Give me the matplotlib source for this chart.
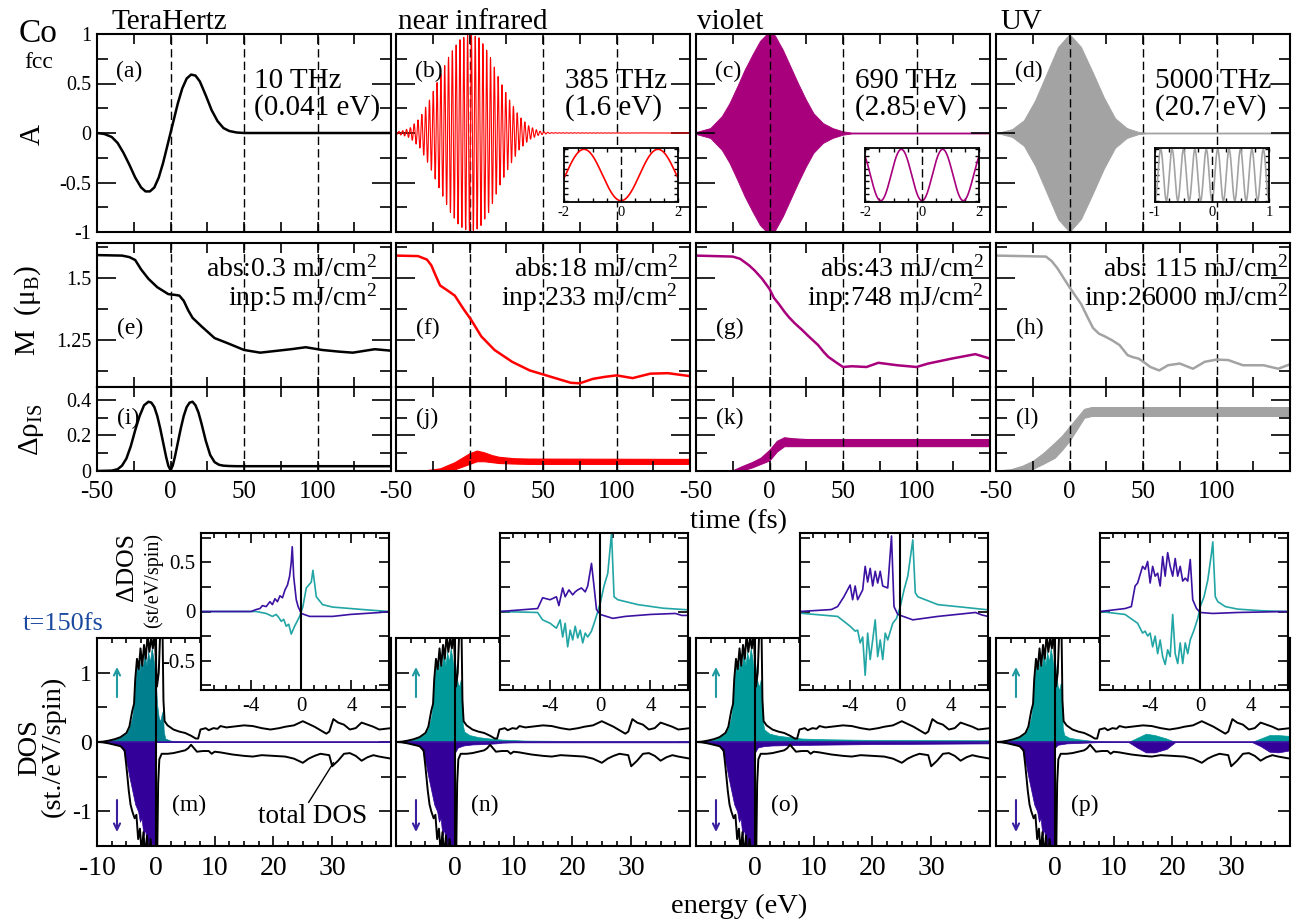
"""Co fcc: laser pulses, demagnetisation, spin-flip and DOS at t=150 fs."""
import matplotlib

matplotlib.use("Agg")
import matplotlib.pyplot as plt
import numpy as np
from matplotlib.ticker import FixedLocator, MultipleLocator

W, H = 1296, 923

# ---- column annotations ----
BANDS = ["TeraHertz", "near infrared", "violet", "UV"]
FREQ_LABELS = ["10 THz", "385 THz", "690 THz", "5000 THz"]
ENERGY_LABELS = ["(0.041 eV)", "(1.6 eV)", "(2.85 eV)", "(20.7 eV)"]
CARRIER_PER_FS = [0.010, 0.385, 0.690, 5.0]
ABS_LABELS = ["abs:0.3 mJ/cm$^2$", "abs:18 mJ/cm$^2$", "abs:43 mJ/cm$^2$", "abs: 115 mJ/cm$^2$"]
INP_LABELS = ["inp:5 mJ/cm$^2$", "inp:233 mJ/cm$^2$", "inp:748 mJ/cm$^2$", "inp:26000 mJ/cm$^2$"]
COLORS = ["black", "#ff0000", "#a8007c", "#a3a3a3"]

# ---- vector potential A(t) ----
T_THZ = [-50, -45, -40, -36, -32, -28, -24, -20, -17, -14, -11, -8, -5, -2, 0,
         2, 5, 8, 11, 14, 17, 20, 24, 28, 32, 36, 40, 45, 50, 150]
A_THZ = [0, -0.01, -0.04, -0.10, -0.20, -0.32, -0.45, -0.55, -0.59, -0.59, -0.55,
         -0.45, -0.30, -0.12, 0.0, 0.12, 0.30, 0.45, 0.55, 0.59, 0.58, 0.52, 0.38,
         0.23, 0.12, 0.05, 0.02, 0.005, 0, 0]
T_ENV_NIR = [-50, -45, -40.5, -33.8, -27, -20.3, -13.5, -6.8, 0, 6.8, 13.5, 20.3,
             27, 33.8, 40.5, 47.3, 55, 150]
ENV_NIR = [0.01, 0.025, 0.05, 0.15, 0.34, 0.57, 0.79, 0.94, 1.0, 0.96, 0.79, 0.54,
           0.34, 0.17, 0.07, 0.02, 0.003, 0.0]
T_ENV_VIO = [-50, -40.3, -32.5, -27.3, -22, -16.9, -11.7, -6.5, -1.3, 0, 3.9, 9.1,
             14.3, 19.5, 24.7, 29.9, 36.4, 42.9, 49.9, 55.8, 150]
ENV_VIO = [0.01, 0.05, 0.17, 0.3, 0.47, 0.64, 0.79, 0.93, 1.01, 1.05, 0.98, 0.84,
           0.67, 0.5, 0.34, 0.2, 0.1, 0.05, 0.017, 0.005, 0.005]
T_ENV_UV = [-50, -46.8, -39, -31, -23.4, -15.6, -7.8, 0, 7.8, 15.6, 23.4, 31, 39,
            46.8, 52, 150]
ENV_UV = [0.005, 0.01, 0.04, 0.13, 0.33, 0.6, 0.87, 1.0, 0.87, 0.62, 0.36, 0.15,
          0.05, 0.012, 0.005, 0.005]

# ---- magnetic moment M(t) ----
T_M_E = [-50, -33, -28, -24, -20, -15, -9, -1.5, 3, 6, 9, 12, 15, 21, 30, 39, 50,
         61, 73, 82, 92, 103, 115, 124, 139, 150]
M_E = [1.593, 1.591, 1.585, 1.573, 1.535, 1.497, 1.463, 1.435, 1.432, 1.429, 1.408,
       1.37, 1.339, 1.305, 1.257, 1.236, 1.209, 1.198, 1.206, 1.212, 1.220, 1.209,
       1.202, 1.198, 1.212, 1.206]
T_M_F = [-50, -35, -29, -26, -23, -20, -15, -10, -4, 1, 8, 17, 29, 41, 50, 60, 69,
         75, 84, 92, 100, 111, 123, 135, 150]
M_F = [1.591, 1.589, 1.575, 1.552, 1.51, 1.47, 1.45, 1.429, 1.374, 1.332, 1.264,
       1.209, 1.161, 1.126, 1.11, 1.092, 1.076, 1.074, 1.092, 1.1, 1.106, 1.095,
       1.113, 1.115, 1.103]
T_M_G = [-50, -25, -20, -14, -10, -5, 0, 3, 6.5, 10, 13, 17, 22, 27, 33, 37, 40,
         45, 50, 56, 66, 74, 87, 100, 108, 124, 140, 150]
M_G = [1.591, 1.587, 1.578, 1.552, 1.53, 1.497, 1.456, 1.42, 1.394, 1.365, 1.343,
       1.318, 1.291, 1.262, 1.229, 1.2, 1.181, 1.16, 1.14, 1.143, 1.14, 1.157, 1.147,
       1.14, 1.154, 1.174, 1.192, 1.174]
T_M_H = [-50, -16, -12, -8, -4, 0, 4, 8, 12, 16, 20, 24, 29, 34, 39.5, 43, 47, 51,
         55, 61, 67, 75, 84, 92, 100, 108, 118, 132, 142, 150]
M_H = [1.591, 1.587, 1.568, 1.538, 1.5, 1.463, 1.428, 1.394, 1.345, 1.298, 1.275,
       1.264, 1.248, 1.229, 1.188, 1.18, 1.174, 1.158, 1.14, 1.126, 1.147, 1.154,
       1.133, 1.161, 1.17, 1.168, 1.147, 1.147, 1.133, 1.151]

# ---- spin-flip density (line for THz, noisy band for the others) ----
T_RHO_I = [-50, -40, -36, -33, -30, -27, -24, -21, -18, -15, -13, -11, -9, -7, -5,
           -3, -1.5, 0, 1.5, 3, 5, 7, 9, 11, 13, 15, 17, 19, 21, 24, 27, 30, 33, 36,
           40, 45, 150]
RHO_I = [0, 0.002, 0.01, 0.03, 0.07, 0.14, 0.23, 0.31, 0.37, 0.39, 0.385, 0.36,
         0.31, 0.24, 0.16, 0.08, 0.03, 0.005, 0.03, 0.08, 0.16, 0.24, 0.31, 0.36,
         0.385, 0.39, 0.37, 0.33, 0.27, 0.17, 0.09, 0.05, 0.035, 0.03, 0.028, 0.027,
         0.027]
T_RHO_J = [-50, -30, -20, -10, -5, 0, 5, 10, 15, 20, 30, 40, 150]
RHO_J_LO = [0, 0, 0, 0.01, 0.025, 0.04, 0.055, 0.055, 0.05, 0.045, 0.042, 0.04, 0.04]
RHO_J_HI = [0.002, 0.004, 0.015, 0.05, 0.075, 0.1, 0.115, 0.105, 0.09, 0.08, 0.072,
            0.07, 0.068]
T_RHO_K = [-50, -25, -18, -12, -6, 0, 5, 10, 15, 25, 150]
RHO_K_LO = [0, 0, 0.005, 0.02, 0.04, 0.06, 0.11, 0.14, 0.14, 0.14, 0.14]
RHO_K_HI = [0.002, 0.004, 0.03, 0.05, 0.075, 0.12, 0.17, 0.19, 0.185, 0.18, 0.18]
T_RHO_L = [-50, -40, -32, -25, -18, -10, -5, 0, 5, 10, 15, 150]
RHO_L_LO = [0, 0, 0.0, 0.012, 0.04, 0.075, 0.12, 0.17, 0.235, 0.30, 0.31, 0.31]
RHO_L_HI = [0.002, 0.01, 0.03, 0.057, 0.1, 0.16, 0.2, 0.25, 0.30, 0.35, 0.36, 0.36]

# ---- total DOS (black lines) ----
E_TOT_UP = [-10, -9, -8, -7, -6, -5, -4.5, -4, -3.7, -3.5, -3.2, -2.9, -2.6, -2.3,
            -2.0, -1.7, -1.4, -1.1, -0.8, -0.5, -0.2, 0.0, 0.2, 0.5, 0.8, 1.1, 1.3,
            1.5, 2, 3, 4, 5, 6, 6.8, 7.2, 7.6, 8.5, 9, 9.8, 10.5, 11, 12, 13, 15,
            16.5, 18, 19.5, 21, 22, 23.5, 25, 26, 27, 28, 29, 29.5, 30.2, 31, 32, 33,
            34, 35, 36, 37, 38, 39, 40]
DOS_TOT_UP = [0, 0.005, 0.02, 0.04, 0.07, 0.13, 0.22, 0.45, 0.55, 0.9, 1.2, 1.05,
              1.35, 1.1, 1.4, 1.2, 1.55, 1.3, 1.5, 1.35, 1.6, 1.2, 0.8, 1.0, 1.7, 1.9,
              0.6, 0.3, 0.24, 0.18, 0.15, 0.13, 0.09, 0.05, 0.05, 0.18, 0.2, 0.17,
              0.2, 0.19, 0.23, 0.21, 0.22, 0.24, 0.23, 0.2, 0.18, 0.2, 0.22, 0.24,
              0.3, 0.26, 0.22, 0.17, 0.12, 0.15, 0.33, 0.28, 0.25, 0.18, 0.2, 0.28,
              0.25, 0.22, 0.18, 0.19, 0.2]
E_TOT_DN = [-10, -9, -8, -7, -6, -5.3, -5, -4.6, -4.3, -4, -3.6, -3.3, -3, -2.7,
            -2.4, -2.1, -1.8, -1.5, -1.2, -0.9, -0.6, -0.3, 0, 0.2, 0.4, 0.6, 1, 2,
            3, 4, 5, 5.5, 6, 6.3, 7, 8, 9, 9.5, 10, 11, 13, 15, 16.5, 18, 20, 22,
            23.5, 25, 26, 27, 28, 29.5, 30, 31, 32, 33, 34, 35, 36, 37, 38, 40]
DOS_TOT_DN = [0, -0.005, -0.02, -0.04, -0.06, -0.12, -0.35, -0.7, -0.9, -1.0, -1.1,
              -1.05, -1.4, -1.25, -1.6, -1.3, -1.65, -1.35, -1.7, -1.4, -1.6, -1.75,
              -1.8, -1.9, -0.6, -0.25, -0.17, -0.17, -0.16, -0.14, -0.12, -0.09,
              -0.04, -0.07, -0.14, -0.13, -0.13, -0.17, -0.14, -0.15, -0.18, -0.2,
              -0.21, -0.19, -0.2, -0.21, -0.24, -0.3, -0.24, -0.2, -0.17, -0.19,
              -0.35, -0.27, -0.17, -0.16, -0.2, -0.27, -0.22, -0.19, -0.21, -0.24]

# ---- occupied DOS below E_F (shared) and hot-carrier tails per panel ----
E_UP_OCC = [-9.5, -8, -7, -6, -5, -4.5, -4, -3.7, -3.4, -3.1, -2.8, -2.5, -2.2,
            -1.9, -1.6, -1.3, -1.0, -0.7, -0.4, -0.15]
UP_OCC = [0, 0.02, 0.04, 0.07, 0.12, 0.2, 0.36, 0.55, 0.95, 1.15, 1.0, 1.25, 1.05,
          1.3, 1.1, 1.3, 1.15, 1.35, 1.2, 1.0]
E_DN_OCC = [-9.5, -8, -7, -6, -5.5, -5, -4.5, -4, -3.5, -3, -2.7, -2.4, -2.1, -1.8,
            -1.5, -1.2, -0.9, -0.6, -0.3]
DN_OCC = [0, -0.01, -0.03, -0.06, -0.12, -0.28, -0.5, -0.7, -0.9, -1.0, -1.15, -1.1,
          -1.35, -1.25, -1.55, -1.4, -1.6, -1.45, -1.6]

E_UP_TAIL_M = [0.0, 0.2, 0.5, 0.8, 1.0, 1.2, 1.35, 1.6, 2.5, 4, 6, 40]
UP_TAIL_M = [0.9, 0.55, 0.35, 0.3, 0.4, 0.45, 0.15, 0.05, 0.02, 0.01, 0.0, 0.0]
E_UP_TAIL_N = [0.0, 0.2, 0.5, 0.8, 1.0, 1.2, 1.35, 1.6, 2.5, 4, 6, 8, 12, 20, 40]
UP_TAIL_N = [1.2, 1.0, 0.85, 0.8, 0.9, 0.85, 0.25, 0.15, 0.1, 0.07, 0.05, 0.035,
             0.02, 0.015, 0.01]
E_UP_TAIL_O = [0.0, 0.2, 0.5, 0.8, 1.0, 1.2, 1.35, 1.6, 2.5, 4, 6, 8, 12, 20, 40]
UP_TAIL_O = [1.2, 1.0, 0.85, 0.8, 0.9, 0.85, 0.3, 0.18, 0.12, 0.09, 0.07, 0.05,
             0.04, 0.03, 0.025]
E_UP_TAIL_P = [0.0, 0.2, 0.5, 0.8, 1.0, 1.2, 1.35, 1.6, 2.5, 4, 6, 8, 12.5, 14,
               15.5, 17, 19, 20.5, 33.5, 35, 36.5, 38, 39.5, 40]
UP_TAIL_P = [1.2, 1.0, 0.8, 0.75, 0.85, 0.72, 0.2, 0.1, 0.06, 0.04, 0.02, 0.01, 0.0,
             0.06, 0.12, 0.1, 0.05, 0.0, 0.0, 0.05, 0.1, 0.1, 0.09, 0.09]

E_DN_TAIL_M = [0.0, 0.05, 40]
DN_TAIL_M = [-1.6, 0.0, 0.0]
E_DN_TAIL_N = [0.0, 0.05, 0.5, 1.5, 3, 5, 7, 8, 10, 40]
DN_TAIL_N = [-1.6, -0.15, -0.08, -0.05, -0.035, -0.03, -0.02, -0.01, -0.005, -0.005]
E_DN_TAIL_O = [0.0, 0.05, 0.5, 1.5, 3, 6, 10, 20, 30, 40]
DN_TAIL_O = [-1.6, -0.15, -0.08, -0.06, -0.05, -0.045, -0.04, -0.03, -0.025, -0.02]
E_DN_TAIL_P = [0.0, 0.05, 0.5, 2, 5, 8, 12.5, 14, 15.5, 17, 19, 20.5, 33.5, 35,
               36.5, 38, 40]
DN_TAIL_P = [-1.6, -0.08, -0.04, -0.02, -0.01, 0.0, 0.0, -0.08, -0.15, -0.15, -0.1,
             0.0, 0.0, -0.06, -0.14, -0.15, -0.12]

# ---- Delta DOS insets ----
DD_M_E_DN = [-8, -4, -3.6, -3.3, -3.1, -2.8, -2.5, -2.3, -2.1, -1.9, -1.7, -1.5,
             -1.3, -1.1, -0.93, -0.8, -0.72, -0.6, -0.4, -0.25, 0, 0.67, 2.5, 3.9,
             6.3, 7]
DD_M_DN = [0, 0, 0.02, 0.03, 0.06, 0.05, 0.1, 0.07, 0.13, 0.1, 0.16, 0.14, 0.22,
           0.27, 0.36, 0.5, 0.66, 0.35, 0.12, 0.05, -0.02, -0.05, -0.05, -0.03,
           -0.01, 0]
DD_M_E_UP = [-8, -3.6, -2.8, -2.3, -2.0, -1.8, -1.6, -1.4, -1.2, -1.0, -0.8, -0.53,
             -0.13, 0.13, 0.4, 0.8, 0.93, 1.2, 1.7, 2.5, 5.2, 7]
DD_M_UP = [0, 0, -0.02, -0.05, -0.03, -0.06, -0.1, -0.08, -0.15, -0.13, -0.23,
           -0.15, -0.05, 0.05, 0.24, 0.3, 0.42, 0.15, 0.07, 0.045, 0.017, 0.0]
DD_N_E_DN = [-8, -5, -4.6, -4, -3.5, -3.3, -3, -2.8, -2.5, -2.2, -2, -1.8, -1.5,
             -1.2, -1, -0.7, -0.5, -0.3, 0, 1, 2, 4, 6, 6.5, 7]
DD_N_DN = [0, 0.03, 0.14, 0.12, 0.15, 0.06, 0.24, 0.15, 0.22, 0.17, 0.2, 0.22, 0.24,
           0.2, 0.26, 0.49, 0.26, 0.02, -0.03, -0.07, -0.05, -0.03, -0.02, -0.04,
           -0.04]
DD_N_E_UP = [-8, -5, -4.6, -4, -3.5, -3.2, -3, -2.8, -2.6, -2.4, -2.2, -2, -1.8,
             -1.6, -1.4, -1.2, -1, -0.7, -0.4, 0, 0.3, 0.6, 0.9, 1.1, 1.4, 3, 5, 7]
DD_N_UP = [0, -0.01, -0.085, -0.12, -0.17, -0.085, -0.26, -0.12, -0.36, -0.19,
           -0.29, -0.15, -0.27, -0.19, -0.32, -0.22, -0.26, -0.2, -0.085, 0.085,
           0.26, 0.39, 0.8, 0.15, 0.12, 0.07, 0.034, 0.017]
DD_O_E_DN = [-8, -5.5, -5, -4.5, -4, -3.8, -3.6, -3.4, -3, -2.8, -2.6, -2.4, -2.2,
             -2, -1.8, -1.6, -1.4, -1, -0.7, -0.5, -0.2, 1, 3, 6, 6.5, 7]
DD_O_DN = [0.0, 0.02, 0.05, 0.15, 0.27, 0.12, 0.26, 0.12, 0.22, 0.46, 0.3, 0.44,
           0.26, 0.41, 0.29, 0.41, 0.26, 0.24, 0.77, 0.05, -0.03, -0.085, -0.05,
           -0.01, -0.035, -0.05]
DD_O_E_UP = [-8, -5, -4.5, -4, -3.6, -3.4, -3.2, -3, -2.8, -2.6, -2.4, -2.2, -2,
             -1.8, -1.6, -1.4, -1.2, -1, -0.6, -0.3, 0, 0.3, 0.6, 1, 1.2, 1.4, 3, 5, 7]
DD_O_UP = [-0.017, -0.05, -0.1, -0.15, -0.2, -0.19, -0.32, -0.26, -0.65, -0.22,
           -0.49, -0.29, -0.085, -0.46, -0.29, -0.49, -0.22, -0.29, -0.12, -0.07,
           0.05, 0.22, 0.36, 0.73, 0.19, 0.15, 0.07, 0.044, 0.017]
DD_P_E_DN = [-8, -6, -5.5, -5.2, -5, -4.6, -4.4, -4.2, -4, -3.8, -3.6, -3.4, -3.2,
             -3, -2.8, -2.6, -2.4, -2.2, -2, -1.8, -1.6, -1.4, -1.2, -1, -0.8, -0.6,
             -0.3, 0, 1, 3, 7]
DD_P_DN = [0, 0.03, 0.05, 0.26, 0.29, 0.46, 0.43, 0.51, 0.29, 0.46, 0.36, 0.39,
           0.26, 0.56, 0.36, 0.6, 0.46, 0.36, 0.54, 0.36, 0.46, 0.31, 0.34, 0.31,
           0.53, 0.12, 0.03, -0.01, -0.02, -0.01, 0]
DD_P_E_UP = [-8, -6, -5, -4.6, -4.4, -4.2, -4, -3.8, -3.6, -3.4, -3.2, -3, -2.8,
             -2.6, -2.4, -2.2, -2, -1.8, -1.6, -1.4, -1.2, -1, -0.8, -0.5, -0.2, 0,
             0.3, 0.6, 0.9, 1.0, 1.2, 1.4, 2, 3, 5, 7]
DD_P_UP = [0, -0.03, -0.12, -0.22, -0.2, -0.25, -0.22, -0.36, -0.25, -0.43, -0.29,
           -0.46, -0.54, -0.39, -0.46, -0.03, -0.43, -0.53, -0.32, -0.53, -0.32,
           -0.43, -0.29, -0.19, -0.07, 0.05, 0.15, 0.32, 0.6, 0.71, 0.15, 0.1, 0.05,
           0.024, 0.007, 0]

TEAL_FILLS = ["#00808f", "#009a9a", "#009a9a", "#009a9a"]
PURPLE_FILL = "#330099"
TEAL_LINE = "#22a5a5"
PURPLE_LINE = "#3c12a2"

# pixel layout of the reference figure
COL_LEFT = [97, 396, 696, 996]
COL_W = 294
PX_A = (34, 198)
PX_MAG = (243, 144)
PX_RHO = (387, 84)
PX_DOS = (638, 208)
PX_INS = (533, 157)
INS_DX, INS_W = 104, 188


def px_axes(fig, x0, y0, w, h):
    return fig.add_axes([x0 / W, 1 - (y0 + h) / H, w / W, h / H])


def style_y(ax, major, minor, labels, size, maj_len, min_len):
    ax.yaxis.set_major_locator(FixedLocator(major))
    ax.yaxis.set_minor_locator(FixedLocator(minor))
    ax.set_yticklabels(labels if labels is not None else [])
    ax.tick_params(axis="y", which="major", direction="in", left=True, right=True,
                   length=maj_len, width=1.2, labelsize=size, pad=4)
    ax.tick_params(axis="y", which="minor", direction="in", left=True, right=True,
                   length=min_len, width=1.2)


def style_time(ax, show_labels):
    ax.set_xlim(-50, 150)
    ax.xaxis.set_major_locator(FixedLocator([-50, 0, 50, 100, 150]))
    ax.xaxis.set_minor_locator(FixedLocator([-25, 25, 75, 125]))
    ax.set_xticklabels(["-50", "0", "50", "100", ""] if show_labels else [])
    ax.tick_params(axis="x", which="both", direction="in", top=True, bottom=True,
                   length=7, width=1.2, labelsize=18, pad=7)
    for t in (0, 50, 100):
        ax.axvline(t, color="k", lw=1, ls=(0, (6, 3)), zorder=1)


def spin_arrow(ax, y0, y1, color):
    ax.annotate("", xy=(0.068, y1), xytext=(0.068, y0), xycoords="axes fraction",
                arrowprops=dict(arrowstyle="->,head_length=0.45,head_width=0.22",
                                color=color, lw=1.5, shrinkA=0, shrinkB=0))


def main() -> None:
    plt.rcParams["font.family"] = ["Liberation Serif", "DejaVu Serif"]
    plt.rcParams["mathtext.fontset"] = "custom"
    plt.rcParams["mathtext.rm"] = "Liberation Serif"
    plt.rcParams["mathtext.it"] = "Liberation Serif:italic"
    plt.rcParams["axes.unicode_minus"] = False
    plt.rcParams["axes.linewidth"] = 1.5

    fig = plt.figure(figsize=(W / 100, H / 100), dpi=100)

    t_fine = np.arange(-50, 150, 0.02)
    env_nir = np.interp(t_fine, T_ENV_NIR, ENV_NIR)
    m_data = [(T_M_E, M_E), (T_M_F, M_F), (T_M_G, M_G), (T_M_H, M_H)]
    rho_bands = [None, (T_RHO_J, RHO_J_LO, RHO_J_HI), (T_RHO_K, RHO_K_LO, RHO_K_HI),
                 (T_RHO_L, RHO_L_LO, RHO_L_HI)]
    letters_top = ["(a)", "(b)", "(c)", "(d)"]
    letters_m = ["(e)", "(f)", "(g)", "(h)"]
    letters_r = ["(i)", "(j)", "(k)", "(l)"]
    freq_dx = [157, 169, 159, 159]
    abs_dx = [14, 12, 6, 2]
    title_x = [112, 398, 697, 1000]
    inset_x = [None, 564, 865, 1155]
    inset_span = [None, 2, 2, 1]

    for i in range(4):
        x0 = COL_LEFT[i]
        c = COLORS[i]

        # ---- vector potential ----
        ax = px_axes(fig, x0, PX_A[0], COL_W, PX_A[1])
        if i == 0:
            ax.plot(T_THZ, A_THZ, color=c, lw=1.8)
        elif i == 1:
            ax.plot(t_fine, -env_nir * np.cos(2 * np.pi * CARRIER_PER_FS[1] * t_fine),
                    color=c, lw=0.8)
        else:
            te, ev = (T_ENV_VIO, ENV_VIO) if i == 2 else (T_ENV_UV, ENV_UV)
            ax.fill_between(te, -np.array(ev), ev, color=c, lw=0.6)
        ax.set_ylim(-1, 1)
        style_time(ax, False)
        style_y(ax, [-1, -0.5, 0, 0.5, 1], [-0.75, -0.25, 0.25, 0.75],
                ["-1", "-0.5", "0", "0.5", "1"] if i == 0 else None, 14.5, 14, 8)
        ax.text(19 / COL_W, 0.813, letters_top[i], transform=ax.transAxes,
                fontsize=17, va="center")
        ax.text(freq_dx[i] / COL_W, 0.727, FREQ_LABELS[i], transform=ax.transAxes,
                fontsize=21, va="baseline")
        ax.text(freq_dx[i] / COL_W, 0.591, ENERGY_LABELS[i], transform=ax.transAxes,
                fontsize=21, va="baseline")
        fig.text(title_x[i] / W, 1 - 29 / H, BANDS[i], fontsize=21, va="baseline")

        if i > 0:
            ins = px_axes(fig, inset_x[i], 148, 114, 54)
            span = inset_span[i]
            ts = np.linspace(-span, span, 800)
            ins.plot(ts, -np.cos(2 * np.pi * CARRIER_PER_FS[i] * ts), color=c, lw=1.2)
            ins.set_xlim(-span, span)
            ins.set_ylim(-1.05, 1.05)
            ins.xaxis.set_major_locator(FixedLocator([-span, 0, span]))
            ins.xaxis.set_minor_locator(MultipleLocator(span / 4))
            ins.yaxis.set_major_locator(MultipleLocator(0.25))
            ins.set_yticklabels([])
            ins.tick_params(which="both", direction="in", top=True, right=True,
                            length=3, width=1, labelsize=10.5, pad=3)
            ins.axvline(0, color="k", lw=1, ls=(0, (6, 3)))
            for s in ins.spines.values():
                s.set_linewidth(1.3)

        # ---- magnetic moment ----
        ax = px_axes(fig, x0, PX_MAG[0], COL_W, PX_MAG[1])
        ax.plot(m_data[i][0], m_data[i][1], color=c, lw=1.8)
        ax.set_ylim(1.059, 1.642)
        style_time(ax, False)
        style_y(ax, [1.25, 1.5], [1.125, 1.375, 1.625],
                ["1.25", "1.5"] if i == 0 else None, 14.5, 14, 8)
        ax.text(20 / COL_W, 0.41, letters_m[i], transform=ax.transAxes,
                fontsize=17, va="center")
        xr = 1 - abs_dx[i] / COL_W
        ax.text(xr, 0.77, ABS_LABELS[i], transform=ax.transAxes, fontsize=20,
                ha="right", va="baseline")
        ax.text(xr, 0.566, INP_LABELS[i], transform=ax.transAxes, fontsize=20,
                ha="right", va="baseline")

        # ---- spin-flip density ----
        ax = px_axes(fig, x0, PX_RHO[0], COL_W, PX_RHO[1])
        if rho_bands[i] is None:
            ax.plot(T_RHO_I, RHO_I, color=c, lw=1.8)
        else:
            tb, lo, hi = rho_bands[i]
            ax.fill_between(tb, lo, hi, color=c, lw=0.8)
        ax.set_ylim(0, 0.473)
        style_time(ax, True)
        style_y(ax, [0, 0.2, 0.4], [0.1, 0.3],
                ["0", "0.2", "0.4"] if i == 0 else None, 14.5, 14, 8)
        ax.text(20 / COL_W, 0.63, letters_r[i], transform=ax.transAxes,
                fontsize=17, va="center")

    # ---- DOS row ----
    up_tails = [(E_UP_TAIL_M, UP_TAIL_M), (E_UP_TAIL_N, UP_TAIL_N),
                (E_UP_TAIL_O, UP_TAIL_O), (E_UP_TAIL_P, UP_TAIL_P)]
    dn_tails = [(E_DN_TAIL_M, DN_TAIL_M), (E_DN_TAIL_N, DN_TAIL_N),
                (E_DN_TAIL_O, DN_TAIL_O), (E_DN_TAIL_P, DN_TAIL_P)]
    ddos = [(DD_M_E_DN, DD_M_DN, DD_M_E_UP, DD_M_UP),
            (DD_N_E_DN, DD_N_DN, DD_N_E_UP, DD_N_UP),
            (DD_O_E_DN, DD_O_DN, DD_O_E_UP, DD_O_UP),
            (DD_P_E_DN, DD_P_DN, DD_P_E_UP, DD_P_UP)]
    letters_d = ["(m)", "(n)", "(o)", "(p)"]

    for i in range(4):
        x0 = COL_LEFT[i]
        ax = px_axes(fig, x0, PX_DOS[0], COL_W, PX_DOS[1])
        e_up = np.concatenate([E_UP_OCC, up_tails[i][0]])
        v_up = np.concatenate([UP_OCC, up_tails[i][1]])
        e_dn = np.concatenate([E_DN_OCC, dn_tails[i][0]])
        v_dn = np.concatenate([DN_OCC, dn_tails[i][1]])
        ax.fill_between(e_up, 0, v_up, color=TEAL_FILLS[i], lw=0.5, zorder=2)
        ax.fill_between(e_dn, v_dn, 0, color=PURPLE_FILL, lw=0.5, zorder=2)
        ax.axhline(0, color=PURPLE_LINE, lw=1.2, zorder=2.1)
        ax.plot(E_TOT_UP, DOS_TOT_UP, color="k", lw=1.4, zorder=3)
        ax.plot(E_TOT_DN, DOS_TOT_DN, color="k", lw=1.4, zorder=3)
        ax.axvline(0, color="k", lw=1.5, zorder=3)
        ax.set_xlim(-10, 40)
        ax.set_ylim(-1.5, 1.5)
        ax.xaxis.set_major_locator(FixedLocator([-10, 0, 10, 20, 30, 40]))
        ax.xaxis.set_minor_locator(MultipleLocator(2.5))
        ax.set_xticklabels(["-10" if i == 0 else "", "0", "10", "20", "30", ""])
        ax.tick_params(axis="x", which="major", direction="in", top=True, bottom=True,
                       length=7, width=1.2, labelsize=20, pad=7)
        ax.tick_params(axis="x", which="minor", direction="in", top=True, bottom=True,
                       length=3.5, width=1.2)
        style_y(ax, [-1, 0, 1], [-1.5, -0.5, 0.5, 1.5],
                ["-1", "0", "1"] if i == 0 else None, 17, 9, 7)
        spin_arrow(ax, 0.716, 0.861, "#1f9aa0")
        spin_arrow(ax, 0.221, 0.067, "#3a1f9f")
        ax.text(0.255, 0.197, letters_d[i], transform=ax.transAxes, fontsize=17,
                va="center")
        if i == 0:
            ax.text(0.548, 0.14, "total DOS", transform=ax.transAxes, fontsize=19.5,
                    va="center")
            ax.plot([30.2, 26.0], [-0.30, -0.87], color="k", lw=1, zorder=3)

        # ---- Delta DOS inset ----
        ins = px_axes(fig, x0 + INS_DX, PX_INS[0], INS_W, PX_INS[1])
        e_d, v_d, e_u, v_u = ddos[i]
        ins.plot(e_u, v_u, color=TEAL_LINE, lw=1.2)
        ins.plot(e_d, v_d, color=PURPLE_LINE, lw=1.2)
        ins.axvline(0, color="k", lw=1.5)
        ins.set_xlim(-8, 7)
        ins.set_ylim(-0.8, 0.8)
        ins.xaxis.set_major_locator(FixedLocator([-4, 0, 4]))
        ins.xaxis.set_minor_locator(MultipleLocator(1))
        ins.tick_params(axis="x", which="major", direction="in", top=True,
                        bottom=True, length=7, width=1.2, labelsize=15, pad=5)
        ins.tick_params(axis="x", which="minor", direction="in", top=True,
                        bottom=True, length=3.5, width=1.2)
        style_y(ins, [-0.5, 0, 0.5], [-0.75, -0.25, 0.25, 0.75],
                ["-0.5", "0", "0.5"] if i == 0 else None, 15, 7, 7)

    # ---- figure-level labels ----
    fig.text(19 / W, 1 - 42 / H, "Co", fontsize=24, va="baseline")
    fig.text(24 / W, 1 - 68 / H, "fcc", fontsize=17, va="baseline")
    fig.text(33 / W, 1 - 134 / H, "A", fontsize=21, rotation=90,
             ha="center", va="center")
    fig.text(28 / W, 1 - 311 / H, "M  (\u03bc$_\\mathrm{B}$)", fontsize=21,
             rotation=90, ha="center", va="center")
    fig.text(32 / W, 1 - 430 / H, "\u0394\u03c1$_\\mathrm{IS}$", fontsize=21,
             rotation=90, ha="center", va="center")
    fig.text(739 / W, 1 - 522 / H, "time (fs)", fontsize=20.5, ha="center",
             va="center")
    fig.text(739 / W, 1 - 906 / H, "energy (eV)", fontsize=20.5, ha="center",
             va="center")
    fig.text(23 / W, 1 - 624 / H, "t=150fs", fontsize=19, color="#1b4aa0",
             va="center")
    fig.text(30 / W, 1 - 748 / H, "DOS", fontsize=20.5, rotation=90,
             ha="center", va="center")
    fig.text(53 / W, 1 - 746 / H, "(st./eV/spin)", fontsize=20.5, rotation=90,
             ha="center", va="center")
    fig.text(127 / W, 1 - 567 / H, "\u0394DOS", fontsize=18.5, rotation=90,
             ha="center", va="center")
    fig.text(153 / W, 1 - 580 / H, "(st/eV/spin)", fontsize=14.5, rotation=90,
             ha="center", va="center")

    fig.savefig("out.png", dpi=100)
    plt.close(fig)


if __name__ == "__main__":
    main()
